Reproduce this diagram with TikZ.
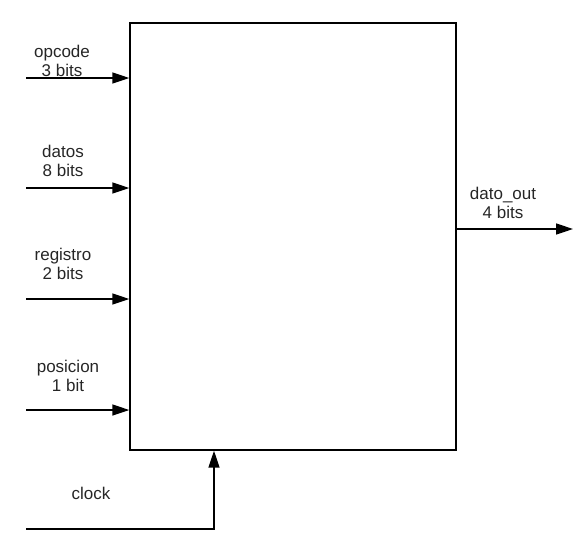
\documentclass[tikz,border=0pt]{standalone}
\usepackage{fontspec}
\setmainfont{Liberation Sans}
\usetikzlibrary{arrows.meta,calc}
\begin{document}
\begin{tikzpicture}[x=1pt,y=-1pt,
  sig/.style={line width=1.6pt,-{Triangle[length=17pt,width=11pt]}},
  lbl/.style={font=\fontsize{17pt}{19pt}\selectfont,align=center,inner sep=0pt,text=black!85},
  blk/.style={draw,line width=1.4pt,minimum width=326pt,minimum height=427pt,inner sep=0pt}]
\useasboundingbox (0,0) rectangle (583,550);
\node[blk] (box) at (293,236.5) {};
\coordinate (i1) at (26,78);
\coordinate (i2) at (26,188);
\coordinate (i3) at (26,299);
\coordinate (i4) at (26,410);
\coordinate (ck) at (26,529);
\coordinate (ckx) at (214,529);
\coordinate (o1) at (573,229);
\draw[sig] (i1) -- (i1 -| box.west);
\draw[sig] (i2) -- (i2 -| box.west);
\draw[sig] (i3) -- (i3 -| box.west);
\draw[sig] (i4) -- (i4 -| box.west);
\draw[sig] (o1 -| box.east) -- (o1);
\draw[sig] (ck) -- (ckx) -- (ckx |- box.south);
\node[lbl] (l1) at (62,61) {opcode\\3 bits};
\node[lbl] (l2) at (63,161) {datos\\8 bits};
\node[lbl] (l3) at (63,264) {registro\\2 bits};
\node[lbl] (l4) at (68,376) {posicion\\1 bit};
\node[lbl] (l5) at (503,203) {dato\_out\\4 bits};
\node[lbl] (l6) at (91,493) {clock};
\end{tikzpicture}
\end{document}
